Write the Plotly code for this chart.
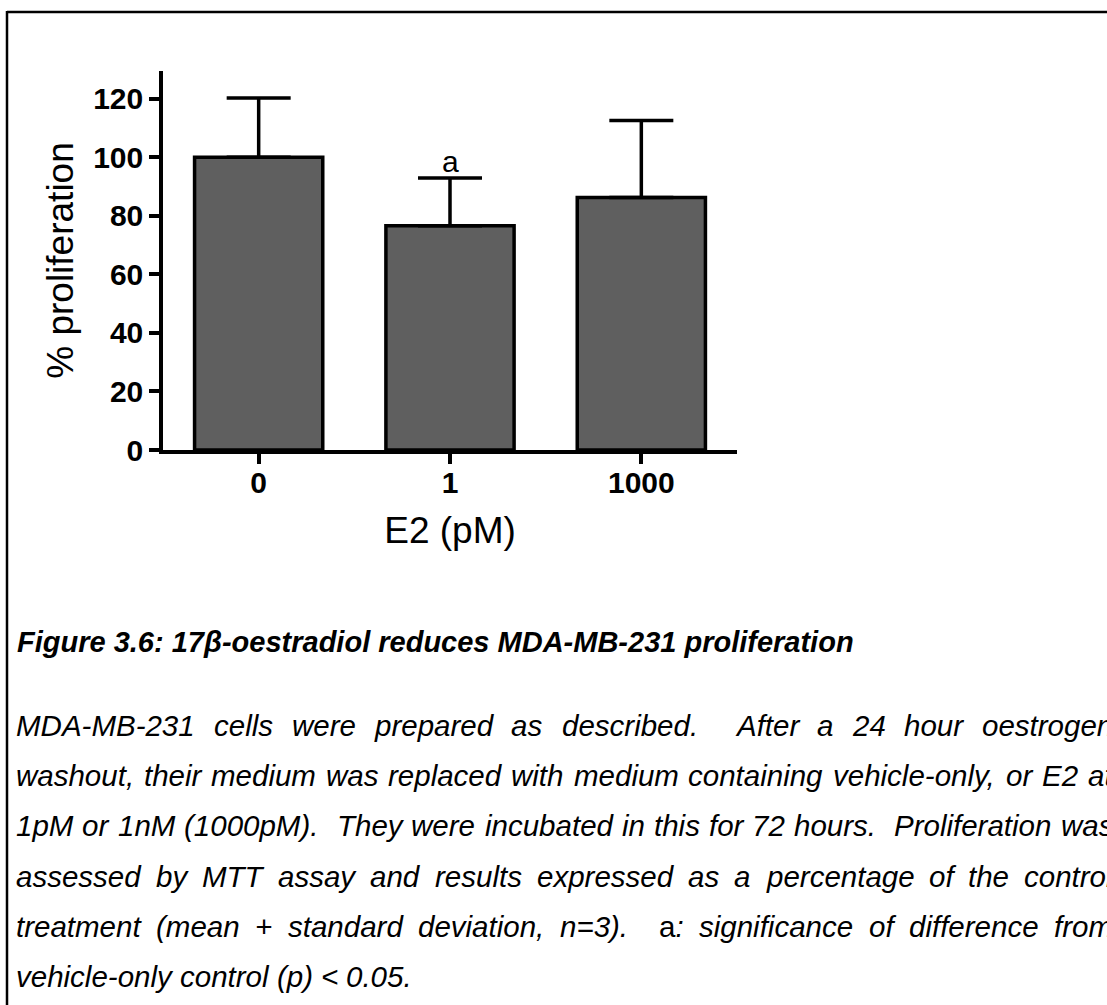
import plotly.graph_objects as go

# ---------------- data ----------------
categories = ["0", "1", "1000"]
means = [100.0, 76.6, 86.3]
sds = [20.3, 16.3, 26.3]
sig_labels = ["", "a", ""]
y_ticks = [0, 20, 40, 60, 80, 100, 120]

x_title = "E2 (pM)"
y_title = "% proliferation"

caption_title = "Figure 3.6: 17β-oestradiol reduces MDA-MB-231 proliferation"
caption_lines = [
    "MDA-MB-231 cells were prepared as described.  After a 24 hour oestrogen",
    "washout, their medium was replaced with medium containing vehicle-only, or E2 at",
    "1pM or 1nM (1000pM).  They were incubated in this for 72 hours.  Proliferation was",
    "assessed by MTT assay and results expressed as a percentage of the control",
    "treatment (mean + standard deviation, n=3).  a: significance of difference from",
    "vehicle-only control (p) < 0.05.",
]

# ---------------- layout constants ----------------
W, H = 1107, 1005
PL, PR, PT, PB = 163, 737, 71, 450      # plot area in px
FONT = "Liberation Sans, Arial, sans-serif"
CAP_SIZE = 29.5
TITLE_SIZE = 29
TEXT_X0 = 15
TEXT_X1 = 1112
TITLE_Y = 642
LINE_Y0 = 725
LINE_STEP = 50.4

# Arial advance widths (1/1000 em) for justification
AW = {' ': 278, '(': 333, ')': 333, '+': 584, ',': 278, '-': 333, '.': 278, ':': 278,
      '<': 584, '=': 584, '>': 584, '%': 889}
for d in "0123456789":
    AW[d] = 556
AW.update(dict(A=667, B=667, C=722, D=722, E=667, F=611, G=778, H=722, I=278, J=500, K=667,
               L=556, M=833, N=722, O=778, P=667, Q=778, R=722, S=667, T=611, U=722, V=667,
               W=944, X=667, Y=667, Z=611))
AW.update(dict(a=556, b=556, c=500, d=556, e=556, f=278, g=556, h=556, i=222, j=222, k=500,
               l=222, m=833, n=556, o=556, p=556, q=556, r=333, s=500, t=278, u=556, v=500,
               w=722, x=500, y=500, z=500))


def tw(s, size):
    return sum(AW.get(ch, 556) for ch in s) * size / 1000.0


def px2paper_x(px):
    return (px - PL) / (PR - PL)


def px2paper_y(py):
    return (PB - py) / (PB - PT)


fig = go.Figure()
fig.add_trace(go.Bar(
    x=list(range(len(categories))), y=means, width=0.67,
    marker=dict(color="#5f5f5f", line=dict(color="black", width=3.5)),
    error_y=dict(type="data", symmetric=False, array=sds, arrayminus=[0] * len(sds),
                 color="black", thickness=3.5, width=32),
    showlegend=False, hoverinfo="skip",
))

annotations = []
for i, lab in enumerate(sig_labels):
    if lab:
        annotations.append(dict(x=i, y=means[i] + sds[i], xref="x", yref="y", text=lab,
                                showarrow=False, yanchor="middle", yshift=17,
                                font=dict(family=FONT, size=30, color="black")))

# caption title
annotations.append(dict(x=px2paper_x(TEXT_X0), y=px2paper_y(TITLE_Y), xref="paper", yref="paper",
                        text="<b><i>" + caption_title + "</i></b>", showarrow=False,
                        xanchor="left", yanchor="middle",
                        font=dict(family=FONT, size=TITLE_SIZE, color="black")))

# caption paragraph (justified, word by word)
sp = AW[' '] * CAP_SIZE / 1000.0
for li, line in enumerate(caption_lines):
    py = LINE_Y0 + li * LINE_STEP
    tokens = line.split(' ')
    n_spaces = len(tokens) - 1
    natural = tw(line, CAP_SIZE)
    last = li == len(caption_lines) - 1
    extra = 0.0 if last else (TEXT_X1 - TEXT_X0 - natural) / max(n_spaces, 1)
    x = TEXT_X0
    for t in tokens:
        if t:
            txt = "a<i>:</i>" if t == "a:" else "<i>" + t.replace("<", "&lt;") + "</i>"
            annotations.append(dict(x=px2paper_x(x), y=px2paper_y(py), xref="paper", yref="paper",
                                    text=txt, showarrow=False, xanchor="left", yanchor="middle",
                                    borderpad=0,
                                    font=dict(family=FONT, size=CAP_SIZE, color="black")))
            x += tw(t, CAP_SIZE)
        x += sp + extra

# frame lines (top and left)
shapes = [
    dict(type="line", xref="paper", yref="paper", x0=px2paper_x(7), x1=px2paper_x(W + 5),
         y0=px2paper_y(12), y1=px2paper_y(12), line=dict(color="black", width=2.5)),
    dict(type="line", xref="paper", yref="paper", x0=px2paper_x(7), x1=px2paper_x(7),
         y0=px2paper_y(11), y1=px2paper_y(H + 5), line=dict(color="black", width=2.5)),
]

fig.update_layout(
    width=W, height=H,
    margin=dict(l=PL, r=W - PR, t=PT, b=H - PB, pad=0),
    paper_bgcolor="white", plot_bgcolor="white",
    font=dict(family=FONT, color="black"),
    annotations=annotations, shapes=shapes,
    xaxis=dict(range=[-0.5, 2.5], tickvals=list(range(len(categories))), ticktext=categories,
               showline=True, linecolor="black", linewidth=3.5, ticks="outside", ticklen=10,
               tickwidth=3.5, tickcolor="black", showgrid=False, zeroline=False,
               ticklabelstandoff=-7,
               tickfont=dict(family=FONT, size=30, color="black", weight="bold"),
               title=dict(text=x_title, font=dict(family=FONT, size=37, color="black"), standoff=20)),
    yaxis=dict(range=[0, 129.5], tickvals=y_ticks, showline=True, linecolor="black", linewidth=3.5,
               ticks="outside", ticklen=10, tickwidth=3.5, tickcolor="black", showgrid=False,
               zeroline=False,
               tickfont=dict(family=FONT, size=30, color="black", weight="bold"),
               title=dict(text=y_title, font=dict(family=FONT, size=37, color="black"), standoff=9)),
)

fig.write_html("out.html")
